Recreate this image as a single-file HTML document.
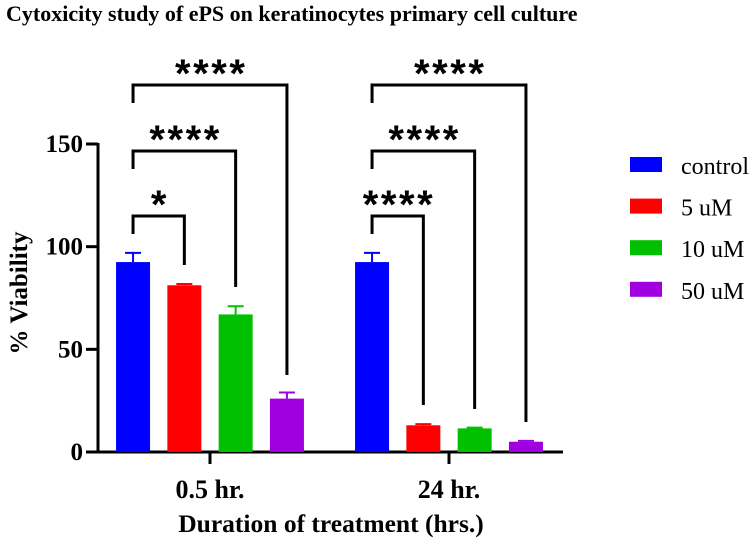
<!DOCTYPE html>
<html><head><meta charset="utf-8"><style>
body{margin:0;background:#fff;}
svg{display:block;font-family:"Liberation Serif",serif;}
</style></head><body>
<svg id="chart" width="753" height="538" viewBox="0 0 753 538">
<text x="6" y="21" font-size="22" font-weight="bold">Cytoxicity study of ePS on keratinocytes primary cell culture</text>
<g id="plot"></g>
</svg>
<script>
const groups = ["0.5 hr.", "24 hr."];
const series = ["control", "5 uM", "10 uM", "50 uM"];
const colors = ["#0000ff", "#ff0000", "#00c000", "#a000e0"];
const values05 = [92.5, 81.2, 67, 26];
const errors05 = [4.5, 0.6, 4, 3];
const values24 = [92.5, 13, 11.5, 5];
const errors24 = [4.5, 0.6, 0.4, 0.4];
const yTicks = [0, 50, 100, 150];
const sigLabels05 = ["*", "****", "****"];
const sigLabels24 = ["****", "****", "****"];

const NS = "http://www.w3.org/2000/svg";
const g = document.getElementById('plot');
const y0 = 452, y150 = 144;
function yS(v){ return y0 - (v/150)*(y0-y150); }
const groupCenters = [210, 449];
const step = 51.3, barW = 34;
function xS(gi, si){ return groupCenters[gi] + (si-1.5)*step; }
function el(tag, attrs){ const e=document.createElementNS(NS,tag); for(const k in attrs) e.setAttribute(k,attrs[k]); g.appendChild(e); return e; }

let a = el('line',{x1:98,y1:y150-1,x2:98,y2:y0+1.5,stroke:'#000','stroke-width':3});


a = el('line',{x1:86,y1:y0,x2:563,y2:y0,stroke:'#000','stroke-width':3});


yTicks.forEach(t=>{
  const l = el('line',{x1:86,y1:yS(t),x2:98,y2:yS(t),stroke:'#000','stroke-width':3});
  
  
  const tx = el('text',{x:83,y:yS(t)+8,'text-anchor':'end','font-size':25,'font-weight':'bold'});
  tx.textContent = t;
  
  
});
groups.forEach((gn,gi)=>{
  const l = el('line',{x1:groupCenters[gi],y1:y0,x2:groupCenters[gi],y2:464,stroke:'#000','stroke-width':3});
  
  
  const tx = el('text',{x:groupCenters[gi],y:498,'text-anchor':'middle','font-size':26,'font-weight':'bold'});
  tx.textContent = gn;
  
  
});
let t = el('text',{x:331,y:532,'text-anchor':'middle','font-size':25.5,'font-weight':'bold'});
t.textContent = 'Duration of treatment (hrs.)';


t = el('text',{x:0,y:0,'text-anchor':'middle','font-size':25,'font-weight':'bold',transform:'translate(27,293) rotate(-90)'});
t.textContent = '% Viability';



[values05, values24].forEach((vals,gi)=>{
  const errs = gi===0?errors05:errors24;
  vals.forEach((v,si)=>{
    const cx = xS(gi,si);
    const r = el('rect',{x:cx-barW/2,y:yS(v),width:barW,height:y0-yS(v),fill:colors[si]});
    
    
    const e1 = el('line',{x1:cx,y1:yS(v),x2:cx,y2:yS(v+errs[si]),stroke:colors[si],'stroke-width':2});
    
    
    const e2 = el('line',{x1:cx-8,y1:yS(v+errs[si]),x2:cx+8,y2:yS(v+errs[si]),stroke:colors[si],'stroke-width':2});
    
    
  });
});

const bracketY = [216, 151, 85];
[sigLabels05, sigLabels24].forEach((labs,gi)=>{
  labs.forEach((lab,k)=>{
    const xl = xS(gi,0), xr = xS(gi,k+1), by = bracketY[k];
    const rightEnd = gi===0 ? [265,287,375][k] : [405,409,422][k];
    const p = el('path',{d:`M${xl} ${by+18} V${by} H${xr} V${rightEnd}`,fill:'none',stroke:'#000','stroke-width':3});
    
    
    const s = el('text',{x:(xl+xr)/2,y:by+2,'text-anchor':'middle','font-size':40,'font-weight':'bold','font-family':'Liberation Sans, sans-serif'});
    s.textContent = lab;
    if(lab.length>1){ s.setAttribute('textLength',70); s.setAttribute('lengthAdjust','spacing'); }
    
    
  });
});

series.forEach((sn,si)=>{
  const ly = 157 + si*41.6;
  const r = el('rect',{x:630,y:ly,width:32,height:15,fill:colors[si]});
  
  
  const tx = el('text',{x:681,y:ly+17,'font-size':24});
  tx.textContent = sn;
  
  
});
</script>
</body></html>
